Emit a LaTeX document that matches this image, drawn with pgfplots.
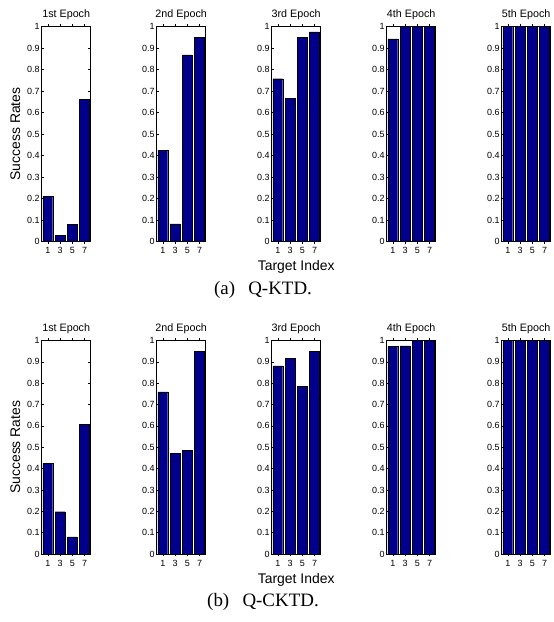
\documentclass[border=0pt]{standalone}
\usepackage{fontspec}
\setmainfont{Liberation Sans}
\newfontfamily\capfont{Liberation Serif}
\usepackage{pgfplots}
\pgfplotsset{compat=1.18}
\definecolor{barblue}{RGB}{0,0,140}
\pgfplotsset{ep/.style={
  scale only axis, width=49bp, anchor=south west,
  xmin=0, xmax=8, ymin=0, ymax=1,
  xtick={1,3,5,7},
  ytick={0,0.1,0.2,0.3,0.4,0.5,0.6,0.7,0.8,0.9,1},
  yticklabels={0,0.1,0.2,0.3,0.4,0.5,0.6,0.7,0.8,0.9,1},
  xticklabels={1,3,5,7},
  tick align=inside, major tick length=2.5bp,
  tick style={line width=0.5bp, black},
  axis line style={line width=0.8bp},
  ticklabel style={font=\fontsize{9}{9}\selectfont},
  yticklabel style={xshift=1.5bp},
  /pgf/number format/assume math mode=true,
  title style={font=\fontsize{10.8}{10.8}\selectfont, yshift=-2.5bp},
  xlabel style={font=\fontsize{14}{14}\selectfont},
  ylabel style={font=\fontsize{14}{14}\selectfont},
  ybar, bar width=1.6, bar shift=0pt,
  cycle list={{fill=barblue, draw=black, line width=0.5bp}},
}}
\begin{document}
\begin{tikzpicture}
\useasboundingbox (0,0) rectangle (554bp,622bp);
% ---------- (a) Q-KTD ----------
\begin{axis}[ep, height=215bp, at={(41.7bp,380.5bp)}, title={1st Epoch}, ylabel={Success Rates}]
\addplot coordinates {(1,0.21) (3,0.03) (5,0.08) (7,0.66)};
\end{axis}
\begin{axis}[ep, height=215bp, at={(156.7bp,380.5bp)}, title={2nd Epoch}]
\addplot coordinates {(1,0.425) (3,0.082) (5,0.868) (7,0.95)};
\end{axis}
\begin{axis}[ep, height=215bp, at={(271.7bp,380.5bp)}, title={3rd Epoch}, xlabel={Target Index}]
\addplot coordinates {(1,0.757) (3,0.667) (5,0.948) (7,0.975)};
\end{axis}
\begin{axis}[ep, height=215bp, at={(386.7bp,380.5bp)}, title={4th Epoch}]
\addplot coordinates {(1,0.942) (3,1) (5,1) (7,1)};
\end{axis}
\begin{axis}[ep, height=215bp, at={(501.7bp,380.5bp)}, title={5th Epoch}]
\addplot coordinates {(1,1) (3,1) (5,1) (7,1)};
\end{axis}
% ---------- (b) Q-CKTD ----------
\begin{axis}[ep, height=213.5bp, at={(41.7bp,68bp)}, title={1st Epoch}, ylabel={Success Rates}]
\addplot coordinates {(1,0.425) (3,0.198) (5,0.08) (7,0.607)};
\end{axis}
\begin{axis}[ep, height=213.5bp, at={(156.7bp,68bp)}, title={2nd Epoch}]
\addplot coordinates {(1,0.759) (3,0.472) (5,0.486) (7,0.95)};
\end{axis}
\begin{axis}[ep, height=213.5bp, at={(271.7bp,68bp)}, title={3rd Epoch}, xlabel={Target Index}]
\addplot coordinates {(1,0.881) (3,0.918) (5,0.786) (7,0.95)};
\end{axis}
\begin{axis}[ep, height=213.5bp, at={(386.7bp,68bp)}, title={4th Epoch}]
\addplot coordinates {(1,0.973) (3,0.975) (5,1) (7,1)};
\end{axis}
\begin{axis}[ep, height=213.5bp, at={(501.7bp,68bp)}, title={5th Epoch}]
\addplot coordinates {(1,1) (3,1) (5,1) (7,1)};
\end{axis}
\node[font=\capfont\fontsize{19}{19}\selectfont] at (263bp,332bp) {(a)\hspace{0.7em}Q-KTD.};
\node[font=\capfont\fontsize{19}{19}\selectfont] at (263bp,20bp) {(b)\hspace{0.7em}Q-CKTD.};
\end{tikzpicture}
\end{document}
